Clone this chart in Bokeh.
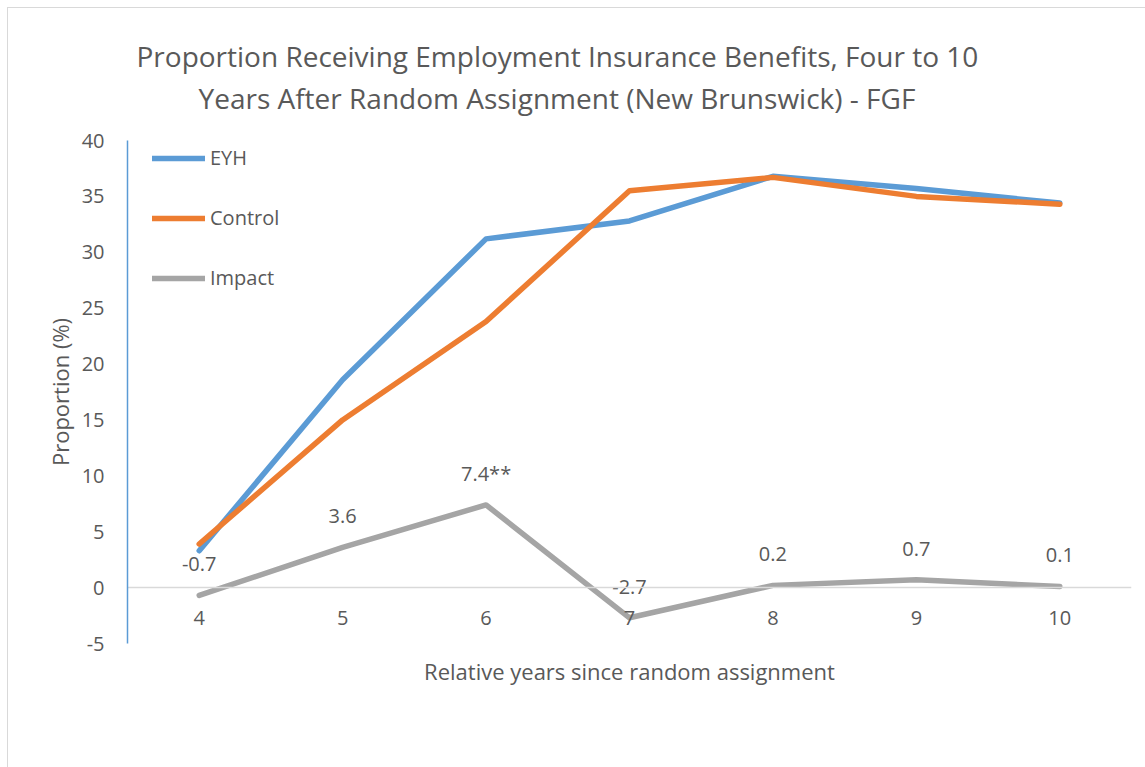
from bokeh.plotting import figure
from bokeh.models import Title, FactorRange, Range1d, FixedTicker
from bokeh.embed import file_html
from bokeh.resources import INLINE
from bokeh.core.properties import value

years = ["4", "5", "6", "7", "8", "9", "10"]
eyh = [3.3, 18.6, 31.2, 32.8, 36.8, 35.7, 34.4]
control = [3.9, 15.0, 23.8, 35.5, 36.7, 35.0, 34.3]
impact = [-0.7, 3.6, 7.4, -2.7, 0.2, 0.7, 0.1]
impact_labels = ["-0.7", "3.6", "7.4**", "-2.7", "0.2", "0.7", "0.1"]
y_ticks = [-5, 0, 5, 10, 15, 20, 25, 30, 35, 40]

title1 = "Proportion Receiving Employment Insurance Benefits, Four to 10"
title2 = "Years After Random Assignment (New Brunswick) - FGF"
x_title = "Relative years since random assignment"

FONT = "Open Sans"
TXT = "#595959"

p = figure(width=1138, height=760, x_range=FactorRange(*years), y_range=Range1d(-5, 40),
           output_backend="svg", toolbar_location=None, title=None,
           min_border_left=119, min_border_right=15, min_border_top=132, min_border_bottom=125)
p.styles = {"margin-left": "7px", "margin-top": "7px",
            "border-left": "1px solid #D9D9D9", "border-top": "1px solid #D9D9D9",
            "box-sizing": "border-box"}
p.outline_line_color = None
p.xgrid.grid_line_color = None
p.ygrid.grid_line_color = None

# spacer between plot area and the title block
p.add_layout(Title(text=" ", text_font_size="1px", standoff=21), "above")
p.add_layout(Title(text=title2, align="left", offset=71, text_font=FONT, text_font_size="28px",
                   text_font_style="normal", text_color=TXT, standoff=0), "above")
p.add_layout(Title(text=title1, align="left", offset=9, text_font=FONT, text_font_size="28px",
                   text_font_style="normal", text_color=TXT, standoff=4), "above")
p.add_layout(Title(text=x_title, align="center", text_font=FONT, text_font_size="22px",
                   text_font_style="normal", text_color=TXT, standoff=20), "below")

lw = 5.5
p.line(years, eyh, line_color="#5B9BD5", line_width=lw, line_cap="round", line_join="round", legend_label="EYH")
p.line(years, control, line_color="#ED7D31", line_width=lw, line_cap="round", line_join="round", legend_label="Control")
p.line(years, impact, line_color="#A5A5A5", line_width=lw, line_cap="round", line_join="round", legend_label="Impact")

p.text(years, impact, text=impact_labels, text_font=value(FONT), text_font_size="20px", text_color=TXT,
       text_align="center", text_baseline="middle", y_offset=-31)

# y axis
ya = p.yaxis[0]
ya.ticker = FixedTicker(ticks=y_ticks)
ya.major_label_overrides = {-5: "-5"}
ya.axis_line_color = "#5B9BD5"
ya.axis_line_width = 1.5
ya.major_tick_line_color = None
ya.minor_tick_line_color = None
ya.major_label_text_font = FONT
ya.major_label_text_font_size = "20px"
ya.major_label_text_color = TXT
ya.major_label_standoff = 17
ya.axis_label = "Proportion (%)"
ya.axis_label_text_font = FONT
ya.axis_label_text_font_size = "22px"
ya.axis_label_text_font_style = "normal"
ya.axis_label_text_color = TXT
ya.axis_label_standoff = 4

# x axis at zero
xa = p.xaxis[0]
xa.fixed_location = 0
xa.axis_line_color = "#D9D9D9"
xa.axis_line_width = 1.5
xa.major_tick_line_color = None
xa.minor_tick_line_color = None
xa.major_label_text_font = FONT
xa.major_label_text_font_size = "20px"
xa.major_label_text_color = TXT
xa.major_label_standoff = 17

lg = p.legend[0]
lg.location = (25, 352)
lg.orientation = "vertical"
lg.border_line_color = None
lg.background_fill_alpha = 0
lg.padding = 0
lg.margin = 0
lg.spacing = 33
lg.glyph_width = 53
lg.glyph_height = 20
lg.label_height = 20
lg.label_standoff = 5
lg.label_text_font = FONT
lg.label_text_font_size = "20px"
lg.label_text_color = TXT

open("out.html", "w").write(file_html(p, INLINE))
